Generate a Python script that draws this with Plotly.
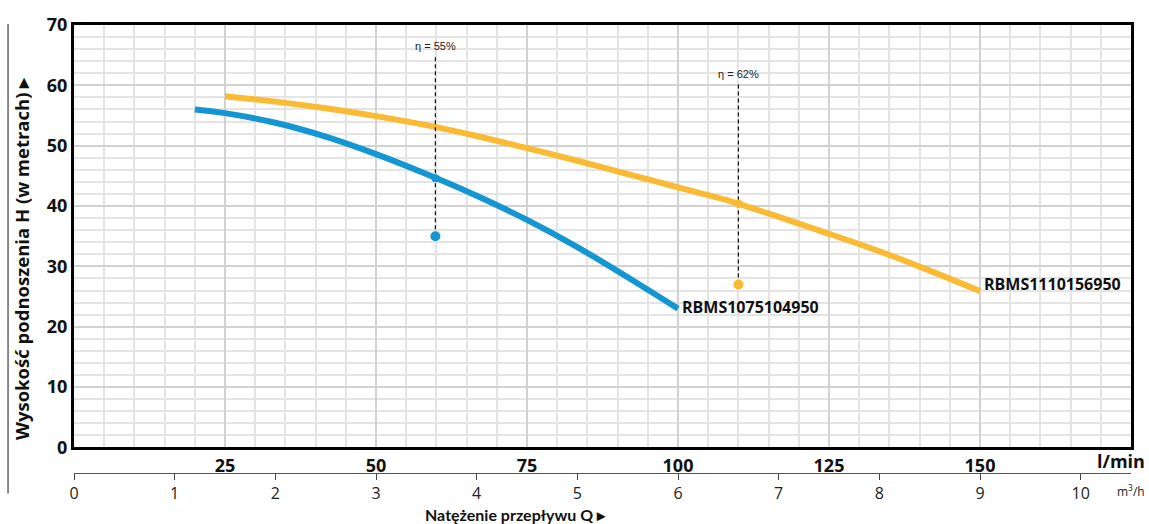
"""
Charakterystyka pomp RBMS - wysokość podnoszenia H w funkcji natężenia przepływu Q.
"""

import plotly.graph_objects as go

# przepływ Q w m3/h, wysokość H w metrach
blue_q = [1.2, 1.5, 2.0, 2.5, 3.0, 3.5, 4.0, 4.5, 5.0, 5.5, 6.0]
blue_h = [56.0, 55.4, 53.8, 51.5, 48.6, 45.3, 41.7, 37.7, 33.2, 28.2, 23.0]

orange_q = [1.5, 2.0, 2.5, 3.0, 3.5, 4.0, 4.5, 5.0, 5.5, 6.0, 6.5, 7.0, 7.5, 8.0, 8.5, 9.0]
orange_h = [58.2, 57.3, 56.2, 54.9, 53.4, 51.6, 49.6, 47.5, 45.3, 43.1, 40.9, 38.2, 35.4, 32.5, 29.3, 25.9]

model_names = ["RBMS1075104950", "RBMS1110156950"]
colors = ["#1396d2", "#fbba33"]

# punkty sprawności
eta_q = [3.59, 6.6]
eta_h_curve = [44.6, 40.4]
eta_h_point = [35.0, 27.0]
eta_h_top = [64.8, 60.3]
eta_labels = ["η = 55%", "η = 62%"]

lmin_ticks = [25, 50, 75, 100, 125, 150]
m3h_ticks = list(range(0, 11))
h_ticks = list(range(0, 71, 10))

FONT = "Open Sans"
Q_MAX = 10.5


def plot_charakterystyka() -> go.Figure:
    fig = go.Figure()

    curves = [(blue_q, blue_h), (orange_q, orange_h)]
    for (q, h), name, color in zip(curves, model_names, colors):
        fig.add_trace(go.Scatter(
            x=q, y=h, mode="lines", name=name,
            line=dict(color=color, width=6, shape="spline", smoothing=0.8),
            hoverinfo="skip",
        ))
        fig.add_annotation(
            x=q[-1], y=h[-1], text=f"<b>{name}</b>", showarrow=False,
            xanchor="left", yanchor="middle", xshift=2,
            yshift=7 if name == model_names[1] else 2,
            font=dict(family=FONT, size=16, color="#111"),
        )

    for i, color in enumerate(colors):
        fig.add_trace(go.Scatter(
            x=[eta_q[i], eta_q[i]], y=[eta_h_point[i], eta_h_top[i]], mode="lines",
            line=dict(color="#111", width=1.2, dash="4px,3px"), hoverinfo="skip",
        ))
        fig.add_trace(go.Scatter(
            x=[eta_q[i]], y=[eta_h_curve[i]], mode="markers",
            marker=dict(color=color, size=8), hoverinfo="skip",
        ))
        fig.add_trace(go.Scatter(
            x=[eta_q[i]], y=[eta_h_point[i]], mode="markers",
            marker=dict(color=color, size=10), hoverinfo="skip",
        ))
        fig.add_annotation(
            x=eta_q[i], y=eta_h_top[i], text=eta_labels[i], showarrow=False,
            yanchor="bottom", yshift=2,
            font=dict(family="Liberation Sans", size=11, color="#222"),
        )

    # druga oś: m3/h
    fig.add_trace(go.Scatter(x=[0, Q_MAX], y=[0, 0], xaxis="x2", mode="lines",
                             line=dict(width=0), hoverinfo="skip"))

    minor_x = [round(i * 0.3, 2) for i in range(1, 36)]
    minor_y = [v for v in range(2, 70, 2)]

    fig.update_layout(
        width=1149, height=524,
        margin=dict(l=74, r=18, t=18, b=51),
        paper_bgcolor="white", plot_bgcolor="white",
        showlegend=False,
        font=dict(family=FONT, color="#111"),
        xaxis=dict(
            range=[0, Q_MAX], anchor="y",
            tickmode="array", tickvals=[v * 0.06 for v in lmin_ticks],
            ticktext=[str(v) for v in lmin_ticks],
            tickfont=dict(family=FONT, size=18, weight="bold", color="#111"),
            ticks="", showgrid=True, gridcolor="#d2d2d2", gridwidth=2,
            minor=dict(tickmode="array", tickvals=minor_x, showgrid=True,
                       gridcolor="#e4e4e4", gridwidth=1.5),
            showline=True, linecolor="#000", linewidth=3, mirror=True,
            zeroline=False, fixedrange=True,
        ),
        xaxis2=dict(
            range=[0, Q_MAX], overlaying="x", anchor="free", position=0,
            side="bottom",
            tickmode="array", tickvals=m3h_ticks, ticktext=[str(v) for v in m3h_ticks],
            tickfont=dict(family=FONT, size=16, color="#222"),
            ticks="outside", ticklen=6, tickcolor="#444", tickwidth=1.2,
            showline=True, linecolor="#555", linewidth=1.2,
            showgrid=False, zeroline=False,
        ),
        yaxis=dict(
            range=[0, 70], domain=[0.0571, 1],
            tickmode="array", tickvals=h_ticks,
            tickfont=dict(family=FONT, size=18, weight="bold", color="#111"),
            ticks="", showgrid=True, gridcolor="#d2d2d2", gridwidth=2,
            minor=dict(tickmode="array", tickvals=minor_y, showgrid=True,
                       gridcolor="#e4e4e4", gridwidth=1.5),
            showline=True, linecolor="#000", linewidth=3, mirror=True,
            zeroline=False,
        ),
    )

    fig.add_annotation(
        xref="paper", yref="paper", x=1.015, y=0.026, text="<b>l/min</b>",
        showarrow=False, xanchor="right", yanchor="middle",
        font=dict(family=FONT, size=18, color="#111"),
    )
    fig.add_annotation(
        xref="paper", yref="paper", x=1.015, y=-0.04, text="m<sup>3</sup>/h",
        showarrow=False, xanchor="right", yanchor="middle",
        font=dict(family=FONT, size=12, color="#222"),
    )
    fig.add_annotation(
        xref="paper", yref="paper", x=0.418, y=-0.092,
        text="<b>Natężenie przepływu Q ▸</b>",
        showarrow=False, xanchor="center", yanchor="middle",
        font=dict(family="Lato", size=16, color="#111"),
    )
    fig.add_annotation(
        xref="paper", yref="paper", x=-0.0492, y=0.48, textangle=-90,
        text="<b>Wysokość podnoszenia H (w metrach) ▸</b>",
        showarrow=False, xanchor="center", yanchor="middle",
        font=dict(family=FONT, size=18.5, color="#111"),
    )
    fig.add_shape(
        type="line", xref="paper", yref="paper",
        x0=-0.0624, x1=-0.0624, y0=-0.046, y1=1.002,
        line=dict(color="#666", width=1.5),
    )
    return fig


fig = plot_charakterystyka()
fig.write_html(
    "out.html",
    config={"displayModeBar": False},
    post_script="document.body.style.margin = '0';",
)
